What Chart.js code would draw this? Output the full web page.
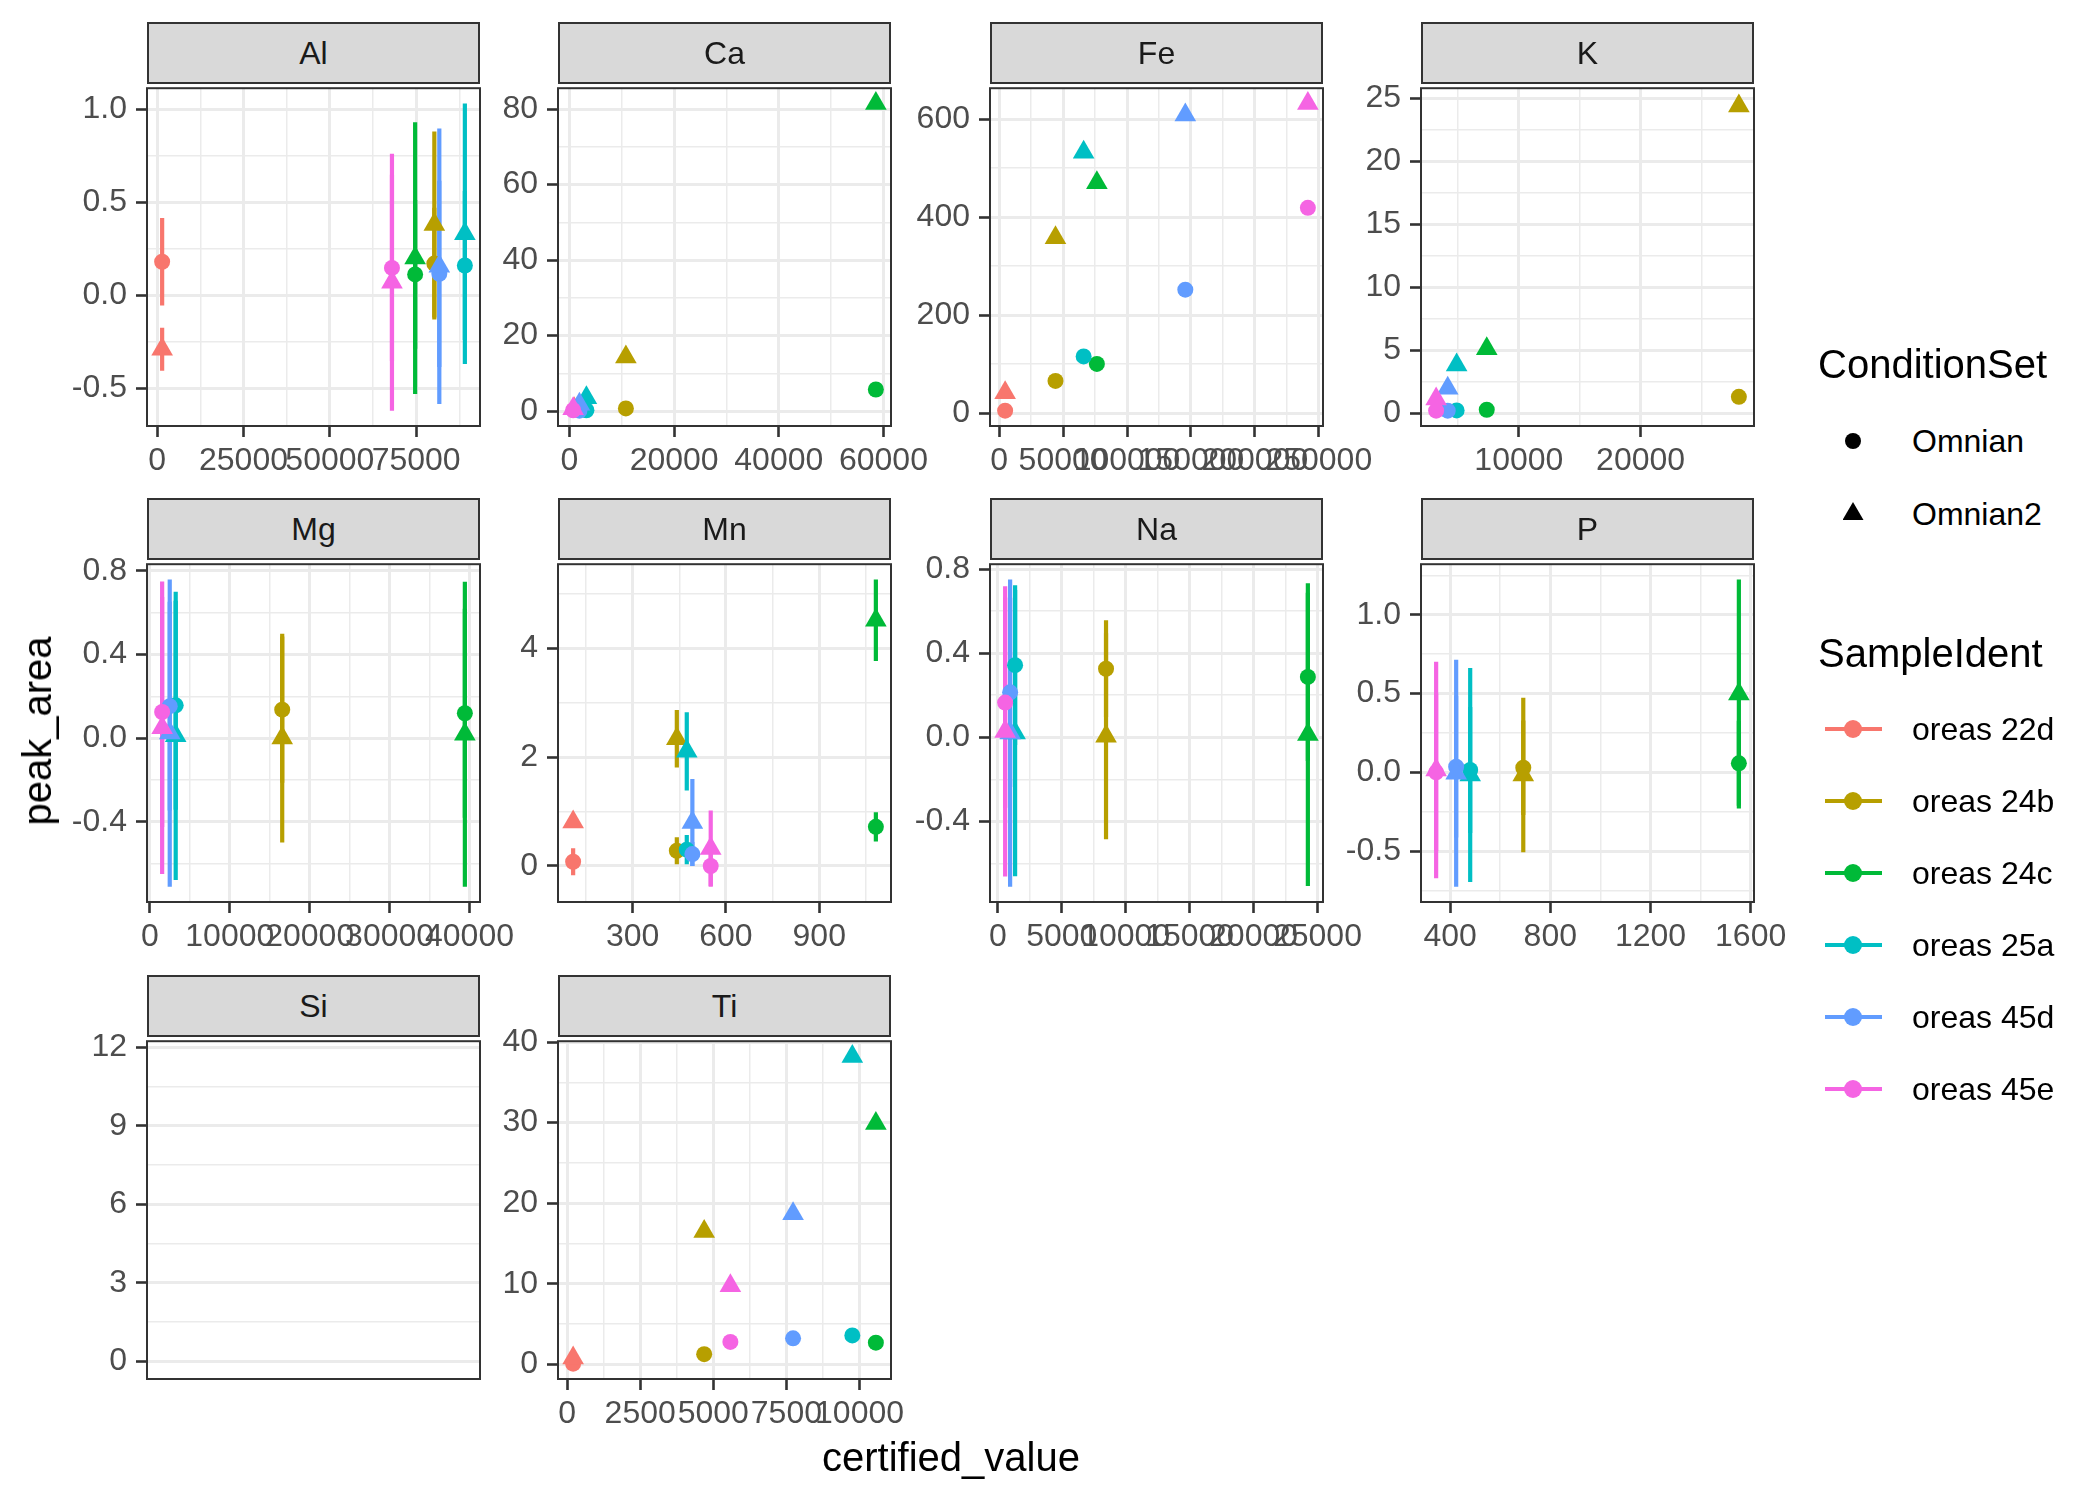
<!DOCTYPE html>
<html>
<head>
<meta charset="utf-8">
<script src="https://cdn.jsdelivr.net/npm/chart.js@4.4.1/dist/chart.umd.min.js"></script>
<style>
  body { margin: 0; width: 2100px; height: 1500px; background: #fff; position: relative; overflow: hidden;
         font-family: "Liberation Sans", Arial, Helvetica, sans-serif; }
  canvas { position: absolute; }
  .strip { position: absolute; box-sizing: border-box; background: #D9D9D9; border: 2px solid #333333;
           color: #1A1A1A; font-size: 32px; display: flex; align-items: center; justify-content: center; z-index: 2; }
  .title { position: absolute; font-size: 40px; color: #000; white-space: nowrap; line-height: 40px; }
  .ltext { position: absolute; font-size: 32px; color: #000; white-space: nowrap; line-height: 32px; }
  .dot { position: absolute; border-radius: 50%; }
  .tri { position: absolute; clip-path: polygon(50% 0, 100% 100%, 0 100%); }
  .kline { position: absolute; }
</style>
</head>
<body>
<script>
// ---- data ----
const samples = ['oreas 22d', 'oreas 24b', 'oreas 24c', 'oreas 25a', 'oreas 45d', 'oreas 45e'];
const conditions = ['Omnian', 'Omnian2'];
const sampleColors = ['#F8766D', '#B79F00', '#00BA38', '#00BFC4', '#619CFF', '#F564E3'];
const elements = ['Al', 'Ca', 'Fe', 'K', 'Mg', 'Mn', 'Na', 'P', 'Si', 'Ti'];

// Al
const alCertified = [1440, 80260, 74700, 89100, 81700, 67990];
const alOmnian    = [0.18, 0.17, 0.112, 0.16, 0.115, 0.147];
const alOmnianSd  = [0.235, 0.3, 0.4, 0.4, 0.5, 0.5];
const alOmnian2   = [-0.29, 0.38, 0.2, 0.33, 0.156, 0.07];
const alOmnian2Sd = [0.115, 0.5, 0.73, 0.7, 0.74, 0.69];
const alXTicks = [0, 25000, 50000, 75000];
const alYTicks = [-0.5, 0, 0.5, 1];

// Ca
const caCertified = [900, 10780, 58550, 3235, 1900, 700];
const caOmnian    = [0.3, 0.7, 5.7, 0.2, 0.1, 0.2];
const caOmnian2   = [0.6, 14.3, 81.5, 3.5, 1.8, 0.6];
const caXTicks = [0, 20000, 40000, 60000];
const caYTicks = [0, 20, 40, 60, 80];

// Fe
const feCertified = [4660, 44040, 76420, 66060, 145600, 241450];
const feOmnian    = [5.4, 66, 100.7, 116, 252, 419];
const feOmnian2   = [42, 358, 470, 532, 608, 631.5];
const feXTicks = [0, 50000, 100000, 150000, 200000, 250000];
const feYTicks = [0, 200, 400, 600];

// K
const kCertified = [null, 28070, 7364, 4890, 4158, 3207];
const kOmnian    = [null, 1.3, 0.27, 0.22, 0.2, 0.2];
const kOmnian2   = [null, 24.4, 5.12, 3.83, 1.97, 1.13];
const kOmnian2Sd = [null, 0.2, 0.3, 0.3, 0.3, 0.2];
const kXTicks = [10000, 20000];
const kYTicks = [0, 5, 10, 15, 20, 25];

// Mg
const mgCertified = [null, 16560, 39420, 3230, 2484, 1532];
const mgOmnian    = [null, 0.136, 0.119, 0.157, 0.153, 0.125];
const mgOmnianSd  = [null, 0.35, 0.5, 0.5, 0.5, 0.55];
const mgOmnian2   = [null, 0.0, 0.019, 0.011, 0.024, 0.05];
const mgOmnian2Sd = [null, 0.5, 0.73, 0.69, 0.735, 0.7];
const mgXTicks = [0, 10000, 20000, 30000, 40000];
const mgYTicks = [-0.4, 0, 0.4, 0.8];

// Mn
const mnCertified = [108.6, 442, 1082, 474, 492, 551];
const mnOmnian    = [0.078, 0.28, 0.72, 0.3, 0.22, 0.0];
const mnOmnianSd  = [0.25, 0.25, 0.27, 0.27, 0.22, 0.37];
const mnOmnian2   = [0.81, 2.34, 4.52, 2.11, 0.8, 0.32];
const mnOmnian2Sd = [0.05, 0.53, 0.75, 0.72, 0.8, 0.7];
const mnXTicks = [300, 600, 900];
const mnYTicks = [0, 2, 4];

// Na
const naCertified = [null, 8463, 24250, 1350, 960, 571];
const naOmnian    = [null, 0.326, 0.287, 0.343, 0.214, 0.165];
const naOmnianSd  = [null, 0.23, 0.4, 0.38, 0.45, 0.5];
const naOmnian2   = [null, 0.005, 0.013, 0.02, 0.02, 0.028];
const naOmnian2Sd = [null, 0.49, 0.72, 0.68, 0.73, 0.69];
const naXTicks = [0, 5000, 10000, 15000, 20000, 25000];
const naYTicks = [-0.4, 0, 0.4, 0.8];

// P
const pCertified = [null, 692, 1553, 480, 424, 344];
const pOmnian    = [null, 0.029, 0.057, 0.015, 0.036, 0.0];
const pOmnianSd  = [null, 0.3, 0.27, 0.4, 0.45, 0.5];
const pOmnian2   = [null, -0.017, 0.497, -0.017, -0.006, 0.015];
const pOmnian2Sd = [null, 0.49, 0.727, 0.68, 0.72, 0.687];
const pXTicks = [400, 800, 1200, 1600];
const pYTicks = [-0.5, 0, 0.5, 1];

// Si (no certified values, only the peak_area range)
const siPeakRange = [-0.09, 11.65];
const siYTicks = [0, 3, 6, 9, 12];

// Ti
const tiCertified = [208, 4688, 10558, 9753, 7727, 5584];
const tiOmnian    = [0.1, 1.27, 2.7, 3.6, 3.24, 2.8];
const tiOmnian2   = [0.8, 16.5, 29.9, 38.2, 18.7, 9.77];
const tiXTicks = [0, 2500, 5000, 7500, 10000];
const tiYTicks = [0, 10, 20, 30, 40];

const panels = {
  Al: { x: alCertified, a: alOmnian, aSd: alOmnianSd, b: alOmnian2, bSd: alOmnian2Sd, xt: alXTicks, yt: alYTicks },
  Ca: { x: caCertified, a: caOmnian, b: caOmnian2, xt: caXTicks, yt: caYTicks },
  Fe: { x: feCertified, a: feOmnian, b: feOmnian2, xt: feXTicks, yt: feYTicks },
  K:  { x: kCertified, a: kOmnian, b: kOmnian2, bSd: kOmnian2Sd, xt: kXTicks, yt: kYTicks },
  Mg: { x: mgCertified, a: mgOmnian, aSd: mgOmnianSd, b: mgOmnian2, bSd: mgOmnian2Sd, xt: mgXTicks, yt: mgYTicks },
  Mn: { x: mnCertified, a: mnOmnian, aSd: mnOmnianSd, b: mnOmnian2, bSd: mnOmnian2Sd, xt: mnXTicks, yt: mnYTicks },
  Na: { x: naCertified, a: naOmnian, aSd: naOmnianSd, b: naOmnian2, bSd: naOmnian2Sd, xt: naXTicks, yt: naYTicks },
  P:  { x: pCertified, a: pOmnian, aSd: pOmnianSd, b: pOmnian2, bSd: pOmnian2Sd, xt: pXTicks, yt: pYTicks },
  Si: { x: [], a: [], b: [], xt: [], yt: siYTicks, yRange: siPeakRange },
  Ti: { x: tiCertified, a: tiOmnian, b: tiOmnian2, xt: tiXTicks, yt: tiYTicks }
};

// ---- layout ----
const colLeft = [147, 558, 990, 1421];
const rowTop = [22, 498, 975];
const panelW = 333, stripH = 62, plotH = 342;
const YW = 100, XH = 60, PT = 24, PR = 70;
const FONT = '"Liberation Sans", Arial, Helvetica, sans-serif';

Chart.defaults.font.family = FONT;

// ggplot-like 5% expansion
function expand(vals) {
  const v = vals.filter(d => d != null);
  const lo = Math.min(...v), hi = Math.max(...v);
  const d = hi - lo;
  return [lo - d * 0.05, hi + d * 0.05];
}

// major ticks + minor ticks half way between
function tickList(majors, lo, hi) {
  const out = majors.map(v => ({ value: v, minor: false }));
  if (majors.length > 1) {
    const step = majors[1] - majors[0];
    const ext = [majors[0] - step, ...majors, majors[majors.length - 1] + step];
    for (let i = 0; i < ext.length - 1; i++) {
      const m = (ext[i] + ext[i + 1]) / 2;
      if (m >= lo && m <= hi) out.push({ value: m, minor: true });
    }
  }
  return out.sort((p, q) => p.value - q.value);
}

function decimals(arr) {
  let d = 0;
  arr.forEach(v => { const s = String(v); if (s.includes('.')) d = Math.max(d, s.split('.')[1].length); });
  return d;
}

const errorBars = {
  id: 'errorBars',
  beforeDatasetsDraw(chart) {
    const { ctx, chartArea, scales } = chart;
    ctx.save();
    ctx.beginPath();
    ctx.rect(chartArea.left, chartArea.top, chartArea.width, chartArea.height);
    ctx.clip();
    ctx.lineWidth = 4.2;
    ctx.lineCap = 'butt';
    chart.data.datasets.forEach(ds => {
      ds.data.forEach(p => {
        if (p.sd == null) return;
        const px = scales.x.getPixelForValue(p.x);
        ctx.strokeStyle = ds.backgroundColor;
        ctx.beginPath();
        ctx.moveTo(px, scales.y.getPixelForValue(p.y - p.sd));
        ctx.lineTo(px, scales.y.getPixelForValue(p.y + p.sd));
        ctx.stroke();
      });
    });
    ctx.restore();
  }
};

const panelBorder = {
  id: 'panelBorder',
  afterDraw(chart) {
    const { ctx, chartArea } = chart;
    ctx.save();
    ctx.strokeStyle = '#333333';
    ctx.lineWidth = 2;
    ctx.strokeRect(chartArea.left, chartArea.top, chartArea.width, chartArea.height);
    ctx.restore();
  }
};

function axisOpts(majors, lo, hi, isX, show) {
  const dec = decimals(majors);
  return {
    type: 'linear',
    display: show,
    bounds: 'data',
    min: lo,
    max: hi,
    afterBuildTicks: s => { s.ticks = tickList(majors, lo, hi); },
    afterFit: s => { if (isX) s.height = XH; else s.width = YW; },
    border: { display: false },
    grid: {
      color: '#EBEBEB',
      lineWidth: c => (c.tick && c.tick.minor ? 1.5 : 3),
      drawTicks: true,
      tickLength: 11,
      tickWidth: 2.6,
      tickColor: c => (c.tick && c.tick.minor ? 'rgba(0,0,0,0)' : '#333333')
    },
    ticks: {
      autoSkip: false,
      maxRotation: 0,
      minRotation: 0,
      padding: isX ? 5 : 9,
      color: '#4D4D4D',
      font: { size: 32, family: FONT, lineHeight: 1.2 },
      callback: (v, i, t) => (t[i].minor ? '' : v.toFixed(dec))
    }
  };
}

elements.forEach((el, i) => {
  const p = panels[el];
  const col = i % 4, row = Math.floor(i / 4);
  const left = colLeft[col], top = rowTop[row];

  // strip
  const strip = document.createElement('div');
  strip.className = 'strip';
  strip.textContent = el;
  Object.assign(strip.style, { left: left + 'px', top: top + 'px', width: panelW + 'px', height: stripH + 'px' });

  // datasets: one per sample and condition
  const datasets = [];
  samples.forEach((s, k) => {
    if (p.x[k] == null) return;
    [['a', 'aSd', 'circle', 8], ['b', 'bSd', 'triangle', 12.5]].forEach(([key, sdKey, shape, r], c) => {
      datasets.push({
        label: s + ' ' + conditions[c],
        data: [{ x: p.x[k], y: p[key][k], sd: p[sdKey] ? p[sdKey][k] : null }],
        backgroundColor: sampleColors[k],
        borderColor: sampleColors[k],
        pointStyle: shape,
        pointRadius: r,
        pointBorderWidth: 0
      });
    });
  });
  datasets.reverse();

  const hasX = p.x.length > 0;
  const xr = hasX ? expand(p.x) : [0, 1];
  let yVals = [];
  if (p.yRange) yVals = p.yRange.slice();
  samples.forEach((s, k) => {
    if (p.x[k] == null) return;
    const sa = p.aSd ? p.aSd[k] : 0, sb = p.bSd ? p.bSd[k] : 0;
    yVals.push(p.a[k] - (sa || 0), p.a[k] + (sa || 0), p.b[k] - (sb || 0), p.b[k] + (sb || 0));
  });
  const yr = expand(yVals);

  const cv = document.createElement('canvas');
  cv.width = YW + panelW + PR;
  cv.height = PT + plotH + XH;
  Object.assign(cv.style, {
    left: (left - YW) + 'px', top: (top + stripH - PT) + 'px',
    width: cv.width + 'px', height: cv.height + 'px'
  });
  document.body.appendChild(cv);
  document.body.appendChild(strip);

  // Si has no x values: keep the x axis box for the layout but draw nothing on it
  const xOpts = axisOpts(p.xt, xr[0], xr[1], true, true);
  if (!hasX) {
    xOpts.ticks.display = false;
    xOpts.grid.display = false;
  }

  new Chart(cv, {
    type: 'scatter',
    data: { datasets },
    options: {
      responsive: false,
      animation: false,
      devicePixelRatio: 1,
      layout: { padding: { top: PT, right: PR, left: 0, bottom: 0 } },
      plugins: { legend: { display: false }, tooltip: { enabled: false } },
      scales: {
        x: xOpts,
        y: axisOpts(p.yt, yr[0], yr[1], false, true)
      }
    },
    plugins: [errorBars, panelBorder]
  });
});

// ---- axis titles ----
function addText(cls, txt, css) {
  const d = document.createElement('div');
  d.className = cls;
  d.textContent = txt;
  Object.assign(d.style, css);
  document.body.appendChild(d);
  return d;
}
addText('title', 'peak_area', { left: '37px', top: '731px', transform: 'translate(-50%, -50%) rotate(-90deg)' });
addText('title', 'certified_value', { left: '951px', top: '1457px', transform: 'translate(-50%, -50%)' });

// ---- legends ----
addText('title', 'ConditionSet', { left: '1818px', top: (364 - 20) + 'px' });
const condY = [441, 514];
conditions.forEach((c, k) => {
  addText('ltext', c, { left: '1912px', top: (condY[k] - 16) + 'px' });
  const m = document.createElement('div');
  if (k === 0) {
    m.className = 'dot';
    Object.assign(m.style, { left: (1853 - 8) + 'px', top: (condY[k] - 8) + 'px', width: '16px', height: '16px', background: '#000' });
  } else {
    m.className = 'tri';
    Object.assign(m.style, { left: (1853 - 10.5) + 'px', top: (condY[k] - 12) + 'px', width: '21px', height: '18px', background: '#000' });
  }
  document.body.appendChild(m);
});

addText('title', 'SampleIdent', { left: '1818px', top: (653 - 20) + 'px' });
samples.forEach((s, k) => {
  const y = 729 + k * 72;
  const ln = document.createElement('div');
  ln.className = 'kline';
  Object.assign(ln.style, { left: '1825px', top: (y - 2) + 'px', width: '57px', height: '4px', background: sampleColors[k] });
  document.body.appendChild(ln);
  const d = document.createElement('div');
  d.className = 'dot';
  Object.assign(d.style, { left: (1853 - 9) + 'px', top: (y - 9) + 'px', width: '18px', height: '18px', background: sampleColors[k] });
  document.body.appendChild(d);
  addText('ltext', s, { left: '1912px', top: (y - 16) + 'px' });
});
</script>
</body>
</html>
